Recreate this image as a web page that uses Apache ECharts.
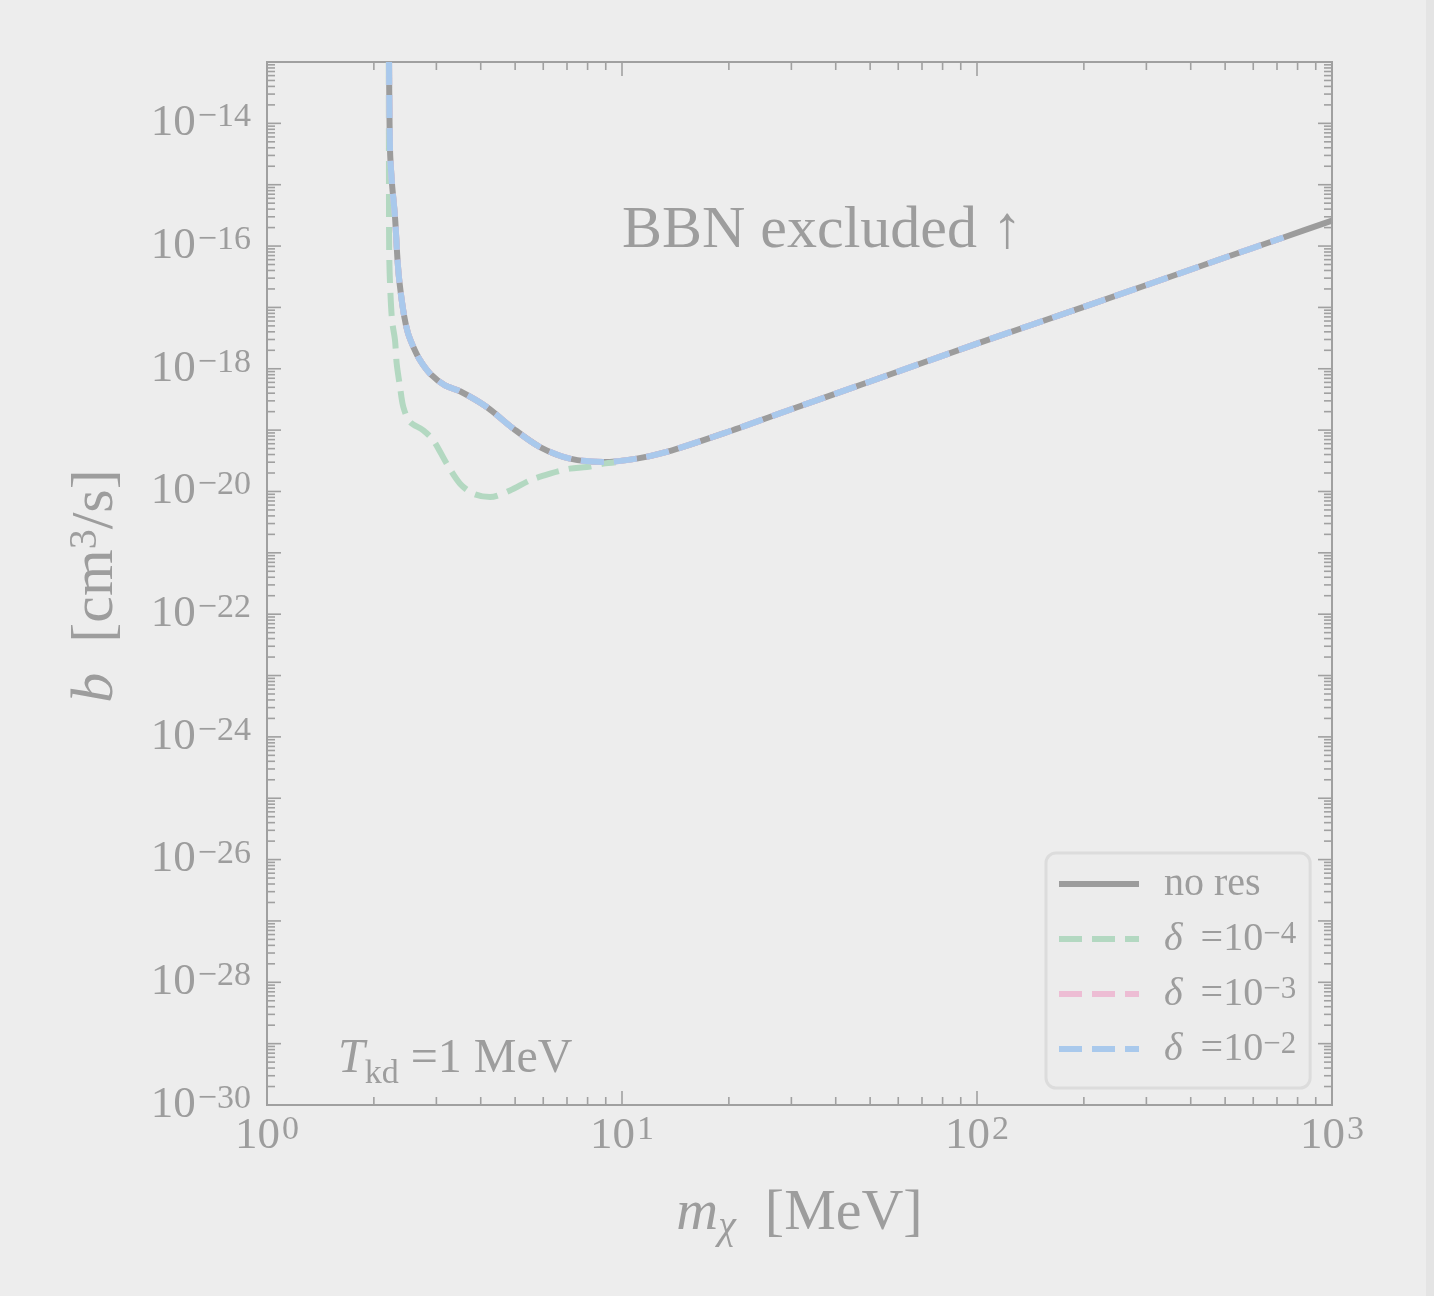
<!DOCTYPE html>
<html><head><meta charset="utf-8">
<script src="https://cdn.jsdelivr.net/npm/echarts@6/dist/echarts.min.js"></script>
<style>html,body{margin:0;padding:0;background:#ededed;}#c{width:1434px;height:1296px;}</style>
</head><body><div id="c"></div>
<script>
// ---- data ----
// no resonance curve: m_chi [MeV], b [cm^3/s]
const massNoRes = [2.207, 2.221, 2.249, 2.294, 2.332, 2.363, 2.432, 2.496, 2.584, 2.698, 2.879, 3.173, 3.498, 4.158, 4.941, 5.875, 7.137, 8.857, 11.0, 13.36, 20, 30, 50, 100, 200, 500, 730, 1000];
const bNoRes    = [1.0e-13, 3.66e-15, 1.06e-15, 2.96e-16, 5.9e-17, 2.48e-17, 7.46e-18, 3.79e-18, 2.27e-18, 1.38e-18, 8.36e-19, 5.37e-19, 4.30e-19, 2.38e-19, 1.06e-19, 5.30e-20, 3.43e-20, 3.02e-20, 3.43e-20, 4.40e-20, 9.5e-20, 2.19e-19, 6.2e-19, 2.57e-18, 1.02e-17, 6.5e-17, 1.38e-16, 2.6e-16];
// delta = 1e-4
const massD4 = [2.203, 2.205, 2.209, 2.221, 2.250, 2.294, 2.319, 2.370, 2.421, 2.527, 2.756, 2.942, 3.208, 3.498, 3.812, 4.248, 4.836, 5.507, 6.269, 7.137, 7.955, 8.857, 9.6];
const bD4    = [1.0e-13, 3.66e-15, 8.57e-17, 2.48e-17, 6.18e-18, 2.92e-18, 1.22e-18, 5.05e-19, 2.38e-19, 1.36e-19, 9.93e-20, 6.82e-20, 2.84e-20, 1.34e-20, 9.2e-21, 8.1e-21, 1.04e-20, 1.52e-20, 1.95e-20, 2.36e-20, 2.50e-20, 2.84e-20, 3.0e-20];
// delta = 1e-3
const massD3 = [2.207, 2.221, 2.249, 2.294, 2.332, 2.363, 2.432, 2.496, 2.584, 2.698, 2.879, 3.173, 3.498, 4.158, 4.941, 5.875, 7.137, 8.857, 11.0, 13.36, 20, 30, 50, 100, 200, 500, 730];
const bD3    = [1.0e-13, 3.66e-15, 1.06e-15, 2.96e-16, 5.9e-17, 2.48e-17, 7.46e-18, 3.79e-18, 2.27e-18, 1.38e-18, 8.36e-19, 5.37e-19, 4.30e-19, 2.38e-19, 1.06e-19, 5.30e-20, 3.43e-20, 3.02e-20, 3.43e-20, 4.40e-20, 9.5e-20, 2.19e-19, 6.2e-19, 2.57e-18, 1.02e-17, 6.5e-17, 1.38e-16];
// delta = 1e-2
const massD2 = [2.207, 2.221, 2.249, 2.294, 2.332, 2.363, 2.432, 2.496, 2.584, 2.698, 2.879, 3.173, 3.498, 4.158, 4.941, 5.875, 7.137, 8.857, 11.0, 13.36, 20, 30, 50, 100, 200, 500, 730];
const bD2    = [1.0e-13, 3.66e-15, 1.06e-15, 2.96e-16, 5.9e-17, 2.48e-17, 7.46e-18, 3.79e-18, 2.27e-18, 1.38e-18, 8.36e-19, 5.37e-19, 4.30e-19, 2.38e-19, 1.06e-19, 5.30e-20, 3.43e-20, 3.02e-20, 3.43e-20, 4.40e-20, 9.5e-20, 2.19e-19, 6.2e-19, 2.57e-18, 1.02e-17, 6.5e-17, 1.38e-16];

const seriesNames = ['no res', 'δ=1e-4', 'δ=1e-3', 'δ=1e-2'];
const legendLabels = ['{n|no res}', '{i|δ}{n| \u2009=10}{s|−4}', '{i|δ}{n| \u2009=10}{s|−3}', '{i|δ}{n| \u2009=10}{s|−2}'];
const xTickExponents = [0, 1, 2, 3];
const yTickExponents = [-30, -28, -26, -24, -22, -20, -18, -16, -14];
const xRange = [1, 1000];
const yRange = [1e-30, 1e-13];

// ---- styling ----
const FONT = '"Liberation Serif", "DejaVu Serif", serif';
const TXT = '#9d9d9d';
const AX = '#a0a0a0';
const C_GREY = '#9c9c9c', C_GREEN = '#b3d8c1', C_PINK = '#edbdd4', C_BLUE = '#a9c9ec';

function zip(a, b) { return a.map((v, i) => [v, b[i]]); }

// tick marks (inside, all four sides)
const ticks = [];
for (let e = 0; e <= 3; e++) {
  const base = Math.pow(10, e);
  ticks.push({x: base, y: yRange[0], dx: 0, dy: -1, len: 14});
  ticks.push({x: base, y: yRange[1], dx: 0, dy: 1, len: 14});
  if (e < 3) for (let k = 2; k <= 9; k++) {
    ticks.push({x: k * base, y: yRange[0], dx: 0, dy: -1, len: 8});
    ticks.push({x: k * base, y: yRange[1], dx: 0, dy: 1, len: 8});
  }
}
for (let e = -30; e <= -13; e++) {
  const base = Math.pow(10, e);
  ticks.push({x: xRange[0], y: base, dx: 1, dy: 0, len: 14});
  ticks.push({x: xRange[1], y: base, dx: -1, dy: 0, len: 14});
  if (e < -13) for (let k = 2; k <= 9; k++) {
    ticks.push({x: xRange[0], y: k * base, dx: 1, dy: 0, len: 8});
    ticks.push({x: xRange[1], y: k * base, dx: -1, dy: 0, len: 8});
  }
}

const supRich = {
  b: {fontFamily: FONT, fontSize: 45, color: TXT, lineHeight: 46},
  s: {fontFamily: FONT, fontSize: 34, color: TXT, lineHeight: 24, verticalAlign: 'top', padding: [0, 0, 0, 2]}
};
function expOf(v) { return Math.round(Math.log10(v)); }
function fmtExp(e) { return '{b|10}{s|' + (e < 0 ? '−' + (-e) : e) + '}'; }

const dash = [23, 10];
const chart = echarts.init(document.getElementById('c'), null, {renderer: 'canvas'});
chart.setOption({
  backgroundColor: '#ededed',
  animation: false,
  grid: {left: 267, right: 102, top: 62, bottom: 191, show: true, borderColor: AX, borderWidth: 2,
         backgroundColor: 'transparent', containLabel: false, outerBoundsMode: 'none'},
  xAxis: {
    type: 'log', logBase: 10, min: xRange[0], max: xRange[1], splitNumber: 3,
    axisLine: {show: false}, axisTick: {show: false}, splitLine: {show: false},
    axisLabel: {
      margin: 8, color: TXT, rich: supRich,
      customValues: xTickExponents.map(e => Math.pow(10, e)),
      formatter: v => { const e = expOf(v); return xTickExponents.indexOf(e) >= 0 ? fmtExp(e) : ''; }
    },
    name: '{i|m}{sub|χ}{n|  [MeV]}', nameLocation: 'middle', nameGap: 80,
    nameTextStyle: {
      color: TXT,
      rich: {
        i: {fontFamily: FONT, fontStyle: 'italic', fontSize: 58, color: TXT, lineHeight: 60, verticalAlign: 'top'},
        sub: {fontFamily: FONT, fontStyle: 'italic', fontSize: 40, color: TXT, lineHeight: 62, verticalAlign: 'bottom'},
        n: {fontFamily: FONT, fontSize: 58, color: TXT, lineHeight: 60, verticalAlign: 'top'}
      }
    }
  },
  yAxis: {
    type: 'log', logBase: 10, min: yRange[0], max: yRange[1], splitNumber: 17,
    axisLine: {show: false}, axisTick: {show: false}, splitLine: {show: false},
    axisLabel: {
      margin: 16, color: TXT, rich: supRich,
      customValues: yTickExponents.map(e => Math.pow(10, e)),
      formatter: v => { const e = expOf(v); return yTickExponents.indexOf(e) >= 0 ? fmtExp(e) : ''; }
    }
  },
  legend: {
    data: seriesNames, orient: 'vertical', left: 1046, top: 853,
    itemWidth: 80, itemHeight: 14, itemGap: 15,
    padding: [11, 14, 19, 10],
    backgroundColor: '#ececec', borderColor: '#dcdcdc', borderWidth: 3, borderRadius: 10,
    selectedMode: false,
    itemStyle: {opacity: 0},
    lineStyle: {width: 6},
    formatter: name => legendLabels[seriesNames.indexOf(name)],
    textStyle: {
      color: TXT, padding: [0, 0, 0, 20],
      rich: {
        n: {fontFamily: FONT, fontSize: 40, color: TXT, lineHeight: 40},
        i: {fontFamily: FONT, fontStyle: 'italic', fontSize: 40, color: TXT, lineHeight: 40},
        s: {fontFamily: FONT, fontSize: 31, color: TXT, lineHeight: 22, verticalAlign: 'top'}
      }
    }
  },
  graphic: [
    {type: 'rect', left: 1426, top: 0, shape: {width: 8, height: 1296}, style: {fill: '#e4e4e4'}, silent: true},
    {type: 'text', left: 622, top: 201, style: {text: 'BBN excluded ↑', font: '60px ' + FONT, fill: TXT}, silent: true},
    {type: 'text', x: 96, y: 586, rotation: Math.PI / 2, silent: true, style: {
      text: '{i|b}{n|  [cm}{s|3}{n|/s]}', fill: TXT, align: 'center', verticalAlign: 'middle',
      rich: {
        i: {fontFamily: FONT, fontStyle: 'italic', fontSize: 60, fill: TXT, lineHeight: 62},
        n: {fontFamily: FONT, fontSize: 60, fill: TXT, lineHeight: 62},
        s: {fontFamily: FONT, fontSize: 40, fill: TXT, lineHeight: 36, verticalAlign: 'top'}
      }
    }},
    {type: 'text', left: 338, top: 1035, silent: true, style: {
      text: '{i|T}{sub|kd}{n| =1 MeV}', fill: TXT,
      rich: {
        i: {fontFamily: FONT, fontStyle: 'italic', fontSize: 48, fill: TXT, lineHeight: 52, verticalAlign: 'top'},
        sub: {fontFamily: FONT, fontSize: 34, fill: TXT, lineHeight: 56, verticalAlign: 'bottom'},
        n: {fontFamily: FONT, fontSize: 48, fill: TXT, lineHeight: 52, verticalAlign: 'top'}
      }
    }}
  ],
  series: [
    {name: seriesNames[0], type: 'line', data: zip(massNoRes, bNoRes), symbol: 'none', smooth: 0.3,
     lineStyle: {color: C_GREY, width: 6}, itemStyle: {color: C_GREY}, z: 2},
    {name: seriesNames[1], type: 'line', data: zip(massD4, bD4), symbol: 'none', smooth: 0.3,
     lineStyle: {color: C_GREEN, width: 6, type: dash}, itemStyle: {color: C_GREEN}, z: 3},
    {name: seriesNames[2], type: 'line', data: zip(massD3, bD3), symbol: 'none', smooth: 0.3,
     lineStyle: {color: C_PINK, width: 6, type: dash}, itemStyle: {color: C_PINK}, z: 4},
    {name: seriesNames[3], type: 'line', data: zip(massD2, bD2), symbol: 'none', smooth: 0.3,
     lineStyle: {color: C_BLUE, width: 6, type: dash}, itemStyle: {color: C_BLUE}, z: 5},
    {type: 'custom', silent: true, z: 6, data: ticks.map(t => [t.x, t.y]),
     renderItem: (params, api) => {
       const t = ticks[params.dataIndex];
       const p = api.coord([t.x, t.y]);
       return {type: 'line', shape: {x1: p[0], y1: p[1], x2: p[0] + t.dx * t.len, y2: p[1] + t.dy * t.len},
               style: {stroke: AX, lineWidth: 1.6}};
     }}
  ]
});
</script></body></html>
